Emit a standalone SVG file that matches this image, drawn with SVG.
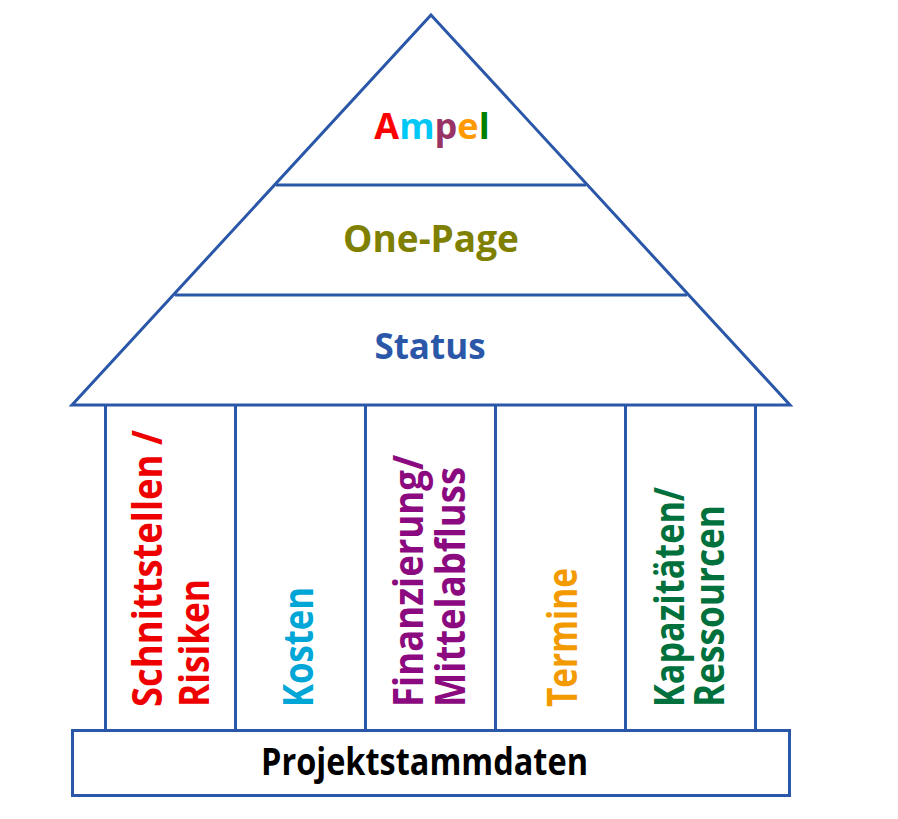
<svg xmlns="http://www.w3.org/2000/svg" width="898" height="819" viewBox="0 0 898 819">
<style>
.ln{fill:none;stroke:#2B57A8;stroke-width:3;stroke-linejoin:miter}
.t{font-family:"Open Sans","Noto Sans","Liberation Sans",sans-serif;font-weight:700}
.col{font-size:41px}
</style>
<rect x="0" y="0" width="898" height="819" fill="#ffffff"/>
<g id="roof">
<polygon class="ln" points="431,15 790,405 72,405"/>
<line class="ln" x1="276" y1="185" x2="586" y2="185"/>
<line class="ln" x1="175" y1="295" x2="687" y2="295"/>
</g>
<g id="ampel">
<text class="t" x="432" y="139" font-size="36" text-anchor="middle"><tspan fill="#FF0000">A</tspan><tspan fill="#00C8F5">m</tspan><tspan fill="#993366">p</tspan><tspan fill="#FF9900">e</tspan><tspan fill="#008000">l</tspan></text>
</g>
<g id="onepage">
<text class="t" x="431" y="252" font-size="37" text-anchor="middle" fill="#808000">One-Page</text>
</g>
<g id="status">
<text class="t" x="430" y="359" font-size="35" text-anchor="middle" fill="#2B57A8">Status</text>
</g>
<g id="columns">
<line class="ln" x1="105.5" y1="405" x2="105.5" y2="730"/>
<line class="ln" x1="235.5" y1="405" x2="235.5" y2="730"/>
<line class="ln" x1="365.5" y1="405" x2="365.5" y2="730"/>
<line class="ln" x1="495.5" y1="405" x2="495.5" y2="730"/>
<line class="ln" x1="625.5" y1="405" x2="625.5" y2="730"/>
<line class="ln" x1="755.5" y1="405" x2="755.5" y2="730"/>
</g>
<g id="col-schnittstellen">
<text class="t col" fill="#EE0000" transform="translate(162,707) rotate(-90)" textLength="277" lengthAdjust="spacingAndGlyphs">Schnittstellen /</text>
<text class="t col" fill="#EE0000" transform="translate(209,707) rotate(-90)" textLength="128" lengthAdjust="spacingAndGlyphs">Risiken</text>
</g>
<g id="col-kosten">
<text class="t col" fill="#00A6D6" transform="translate(313,707) rotate(-90)" textLength="120" lengthAdjust="spacingAndGlyphs">Kosten</text>
</g>
<g id="col-finanzierung">
<text class="t col" fill="#8B0A80" transform="translate(423,707) rotate(-90)" textLength="252" lengthAdjust="spacingAndGlyphs">Finanzierung/</text>
<text class="t col" fill="#8B0A80" transform="translate(465,707) rotate(-90)" textLength="240" lengthAdjust="spacingAndGlyphs">Mittelabfluss</text>
</g>
<g id="col-termine">
<text class="t col" fill="#F39A00" transform="translate(577,707) rotate(-90)" textLength="139" lengthAdjust="spacingAndGlyphs">Termine</text>
</g>
<g id="col-kapazitaeten">
<text class="t col" fill="#00703C" transform="translate(684,707) rotate(-90)" textLength="220" lengthAdjust="spacingAndGlyphs">Kapazitäten/</text>
<text class="t col" fill="#00703C" transform="translate(724,707) rotate(-90)" textLength="202" lengthAdjust="spacingAndGlyphs">Ressourcen</text>
</g>
<g id="base">
<rect class="ln" x="72.5" y="730.5" width="717" height="65"/>
<text class="t" x="261" y="775" font-size="38" fill="#000000" textLength="327" lengthAdjust="spacingAndGlyphs">Projektstammdaten</text>
</g>
</svg>
